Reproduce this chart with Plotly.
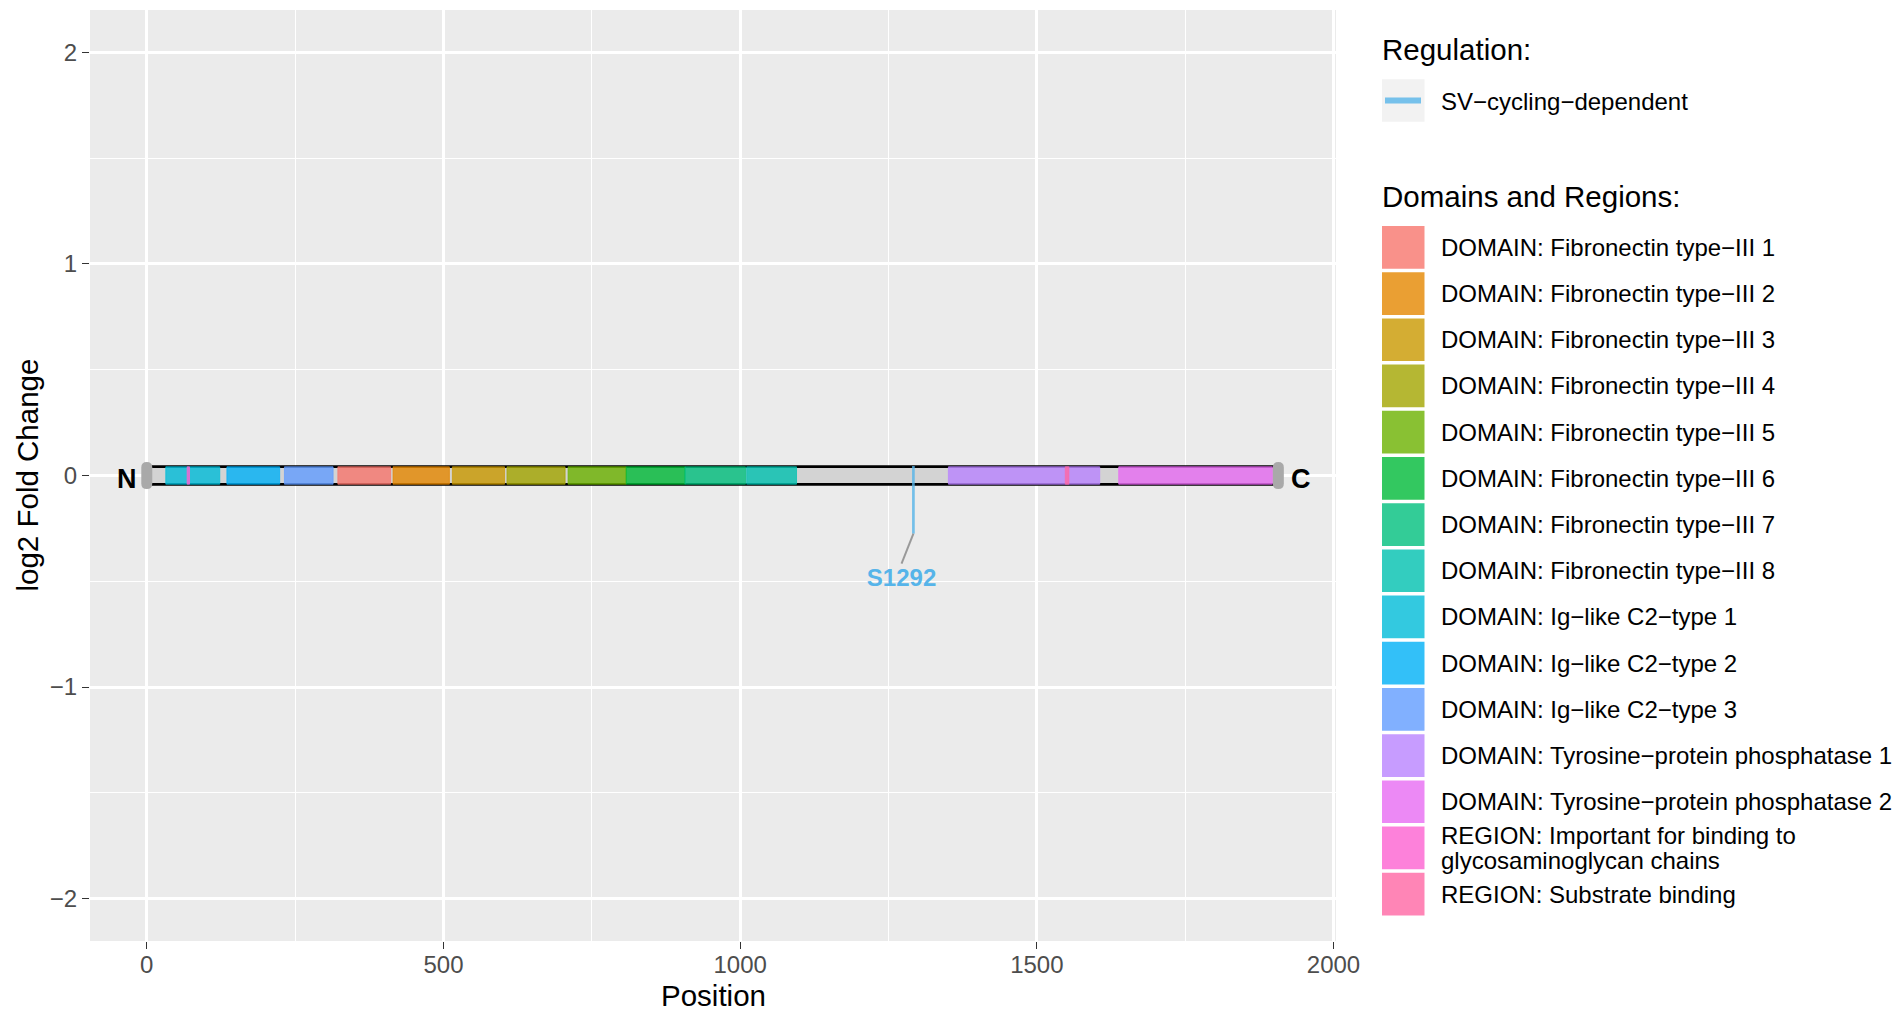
import plotly.graph_objects as go

# ---------------- data ----------------
protein_length = 1907

domain_names = [
    "DOMAIN: Ig\u2212like C2\u2212type 1",
    "DOMAIN: Ig\u2212like C2\u2212type 2",
    "DOMAIN: Ig\u2212like C2\u2212type 3",
    "DOMAIN: Fibronectin type\u2212III 1",
    "DOMAIN: Fibronectin type\u2212III 2",
    "DOMAIN: Fibronectin type\u2212III 3",
    "DOMAIN: Fibronectin type\u2212III 4",
    "DOMAIN: Fibronectin type\u2212III 5",
    "DOMAIN: Fibronectin type\u2212III 6",
    "DOMAIN: Fibronectin type\u2212III 7",
    "DOMAIN: Fibronectin type\u2212III 8",
    "DOMAIN: Tyrosine\u2212protein phosphatase 1",
    "DOMAIN: Tyrosine\u2212protein phosphatase 2",
    "REGION: Important for binding to glycosaminoglycan chains",
    "REGION: Substrate binding",
]
domain_starts = [32, 135, 232, 322, 415, 515, 607, 710, 808, 907, 1011, 1351, 1638, 68, 1548]
domain_ends = [123, 224, 314, 411, 510, 603, 705, 808, 907, 1009, 1095, 1606, 1897, 72, 1554]

legend_names = [
    "DOMAIN: Fibronectin type\u2212III 1",
    "DOMAIN: Fibronectin type\u2212III 2",
    "DOMAIN: Fibronectin type\u2212III 3",
    "DOMAIN: Fibronectin type\u2212III 4",
    "DOMAIN: Fibronectin type\u2212III 5",
    "DOMAIN: Fibronectin type\u2212III 6",
    "DOMAIN: Fibronectin type\u2212III 7",
    "DOMAIN: Fibronectin type\u2212III 8",
    "DOMAIN: Ig\u2212like C2\u2212type 1",
    "DOMAIN: Ig\u2212like C2\u2212type 2",
    "DOMAIN: Ig\u2212like C2\u2212type 3",
    "DOMAIN: Tyrosine\u2212protein phosphatase 1",
    "DOMAIN: Tyrosine\u2212protein phosphatase 2",
    "REGION: Important for binding to glycosaminoglycan chains",
    "REGION: Substrate binding",
]
legend_colors = [
    "#F8766D", "#E58700", "#C99800", "#A3A500", "#6BB100",
    "#00BA38", "#00BF7D", "#00C0AF", "#00BCD8", "#00B0F6",
    "#619CFF", "#B983FF", "#E76BF3", "#FD61D1", "#FF67A4",
]

site_labels = ["S1292"]
site_positions = [1292]
site_line_end = [-0.275]
site_label_pos = [1272]
site_label_y = [-0.495]
regulation_name = "SV\u2212cycling\u2212dependent"
regulation_color = "#56B4E9"

x_tickvals = [0, 500, 1000, 1500, 2000]
x_ticktext = ["0", "500", "1000", "1500", "2000"]
y_tickvals = [-2, -1, 0, 1, 2]
y_ticktext = ["\u22122", "\u22121", "0", "1", "2"]

# ---------------- layout helpers ----------------
W, H = 1897, 1010
ML, MR, MT, MB = 90, 561, 10, 69
PW = W - ML - MR
PH = H - MT - MB
FONT = "Liberation Sans, Arial, Helvetica, sans-serif"
TXT = 24
TTL = 29.5


def px(xp):
    return (xp - ML) / PW


def py(yp):
    return (H - MB - yp) / PH


def rgba(hexc, a):
    h = hexc.lstrip("#")
    r, g, b = int(h[0:2], 16), int(h[2:4], 16), int(h[4:6], 16)
    return f"rgba({r},{g},{b},{a})"


color_of = dict(zip(legend_names, legend_colors))

fig = go.Figure()

# protein backbone: black outline + gray fill
fig.add_trace(go.Bar(orientation="h", y=[0], base=[0], x=[protein_length], width=0.097,
                     marker=dict(color="black", line=dict(width=0)), showlegend=False, hoverinfo="skip"))
fig.add_trace(go.Bar(orientation="h", y=[0], base=[0], x=[protein_length], width=0.072,
                     marker=dict(color="#D3D3D3", line=dict(width=0)), showlegend=False, hoverinfo="skip"))

# domains and regions
for name, s, e in zip(domain_names, domain_starts, domain_ends):
    c = color_of[name]
    fig.add_trace(go.Bar(orientation="h", y=[0], base=[s], x=[e - s], width=0.082,
                         marker=dict(color=rgba(c, 0.8), line=dict(width=0.8, color=rgba(c, 0.9))),
                         name=name, showlegend=False))

# phosphosite lines and labels
for lab, pos, yend, lx, ly in zip(site_labels, site_positions, site_line_end, site_label_pos, site_label_y):
    fig.add_trace(go.Scatter(x=[pos, pos], y=[0.045, yend], mode="lines",
                             line=dict(color=rgba(regulation_color, 0.8), width=2.7),
                             showlegend=False, hoverinfo="skip"))
    fig.add_trace(go.Scatter(x=[pos, lx], y=[yend, ly + 0.078], mode="lines",
                             line=dict(color="#999999", width=2),
                             showlegend=False, hoverinfo="skip"))
    fig.add_trace(go.Scatter(x=[lx], y=[ly], mode="text", text=[f"<b>{lab}</b>"],
                             textfont=dict(family=FONT, size=TXT, color=regulation_color),
                             textposition="middle center", showlegend=False, hoverinfo="skip"))

shapes = []
annotations = []

# N / C terminal labels
for lab, xpos in zip(["N", "C"], [-33, protein_length + 39]):
    annotations.append(dict(xref="x", yref="y", x=xpos, y=0, text=f"<b>{lab}</b>",
                            showarrow=False, xanchor="center", yanchor="middle", yshift=-3,
                            font=dict(family=FONT, size=27, color="black")))

# rounded terminal caps (pixel sized, anchored at data x)
cap_path = ("M -5.5,-8 L -5.5,8 Q -5.5,13.5 0,13.5 Q 5.5,13.5 5.5,8 "
            "L 5.5,-8 Q 5.5,-13.5 0,-13.5 Q -5.5,-13.5 -5.5,-8 Z")
for anchor in [0, protein_length]:
    shapes.append(dict(type="path", xref="x", yref="y", xsizemode="pixel", ysizemode="pixel",
                       xanchor=anchor, yanchor=0, path=cap_path,
                       fillcolor="#A9A9A9", line=dict(width=0), layer="above"))

# legend: Regulation
annotations.append(dict(xref="paper", yref="paper", x=px(1380), y=py(50), text="Regulation:",
                        showarrow=False, xanchor="left", yanchor="middle",
                        font=dict(family=FONT, size=TTL, color="black")))
shapes.append(dict(type="rect", xref="paper", yref="paper", x0=px(1382), x1=px(1424.5),
                   y0=py(79.3), y1=py(121.7), fillcolor="#F2F2F2", line=dict(width=0)))
shapes.append(dict(type="line", xref="paper", yref="paper", x0=px(1385), x1=px(1421),
                   y0=py(100.5), y1=py(100.5), line=dict(color=rgba(regulation_color, 0.8), width=6)))
annotations.append(dict(xref="paper", yref="paper", x=px(1439), y=py(101), text=regulation_name,
                        showarrow=False, xanchor="left", yanchor="middle",
                        font=dict(family=FONT, size=TXT, color="black")))

# legend: Domains and Regions
annotations.append(dict(xref="paper", yref="paper", x=px(1380), y=py(196), text="Domains and Regions:",
                        showarrow=False, xanchor="left", yanchor="middle",
                        font=dict(family=FONT, size=TTL, color="black")))
step = 46.2
for i, (name, c) in enumerate(zip(legend_names, legend_colors)):
    top = 226 + i * step
    shapes.append(dict(type="rect", xref="paper", yref="paper", x0=px(1382), x1=px(1424.5),
                       y0=py(top), y1=py(top + 42.7), fillcolor=rgba(c, 0.8), line=dict(width=0)))
    cy = top + 21.3
    if name.startswith("REGION: Important"):
        parts = ["REGION: Important for binding to", "glycosaminoglycan chains"]
        for j, t in enumerate(parts):
            annotations.append(dict(xref="paper", yref="paper", x=px(1439), y=py(cy - 12.5 + 25 * j),
                                    text=t, showarrow=False, xanchor="left", yanchor="middle",
                                    font=dict(family=FONT, size=TXT, color="black")))
    else:
        annotations.append(dict(xref="paper", yref="paper", x=px(1439), y=py(cy), text=name,
                                showarrow=False, xanchor="left", yanchor="middle",
                                font=dict(family=FONT, size=TXT, color="black")))

# axis titles
annotations.append(dict(xref="paper", yref="paper", x=0.5, y=py(996), text="Position",
                        showarrow=False, xanchor="center", yanchor="middle",
                        font=dict(family=FONT, size=TTL, color="black")))
annotations.append(dict(xref="paper", yref="paper", x=px(27), y=0.5, text="log2 Fold Change",
                        showarrow=False, xanchor="center", yanchor="middle", textangle=-90,
                        font=dict(family=FONT, size=TTL, color="black")))

fig.update_layout(
    width=W, height=H,
    margin=dict(l=ML, r=MR, t=MT, b=MB, autoexpand=False),
    paper_bgcolor="white", plot_bgcolor="#EBEBEB",
    barmode="overlay", showlegend=False,
    font=dict(family=FONT),
    shapes=shapes, annotations=annotations,
    xaxis=dict(range=[-95.7, 2004.2], tickvals=x_tickvals, ticktext=x_ticktext,
               showgrid=True, gridcolor="white", gridwidth=2.6, zeroline=False,
               minor=dict(tickvals=[250, 750, 1250, 1750], showgrid=True, gridcolor="white",
                          gridwidth=1.3, ticks=""),
               ticks="outside", ticklen=7, tickwidth=1.4, tickcolor="#333333",
               ticklabelstandoff=-5,
               tickfont=dict(family=FONT, size=TXT, color="#4D4D4D"),
               showline=False, automargin=False, fixedrange=True),
    yaxis=dict(range=[-2.2, 2.2], tickvals=y_tickvals, ticktext=y_ticktext,
               showgrid=True, gridcolor="white", gridwidth=2.6, zeroline=False,
               minor=dict(tickvals=[-1.5, -0.5, 0.5, 1.5], showgrid=True, gridcolor="white",
                          gridwidth=1.3, ticks=""),
               ticks="outside", ticklen=7, tickwidth=1.4, tickcolor="#333333",
               tickfont=dict(family=FONT, size=TXT, color="#4D4D4D"),
               showline=False, automargin=False, fixedrange=True),
)

fig.write_html("out.html", config={"displayModeBar": False},
               post_script="document.body.style.margin='0';document.body.style.overflow='hidden';")
